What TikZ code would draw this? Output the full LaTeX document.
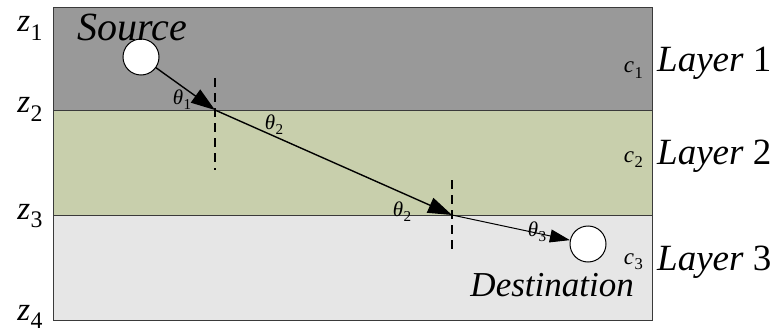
\documentclass[tikz,border=0pt]{standalone}
\usepackage{fontspec}
\setmainfont{Liberation Serif}
\usepackage{tikz}
\usetikzlibrary{arrows.meta,positioning}
\definecolor{geoTop}{HTML}{999999}
\definecolor{geoMid}{HTML}{C8CFAC}
\definecolor{geoLow}{HTML}{E6E6E6}
\definecolor{geoEdge}{HTML}{3A3A3A}
\newcommand{\sym}[2]{\textit{#1}\kern0.5pt\raisebox{-0.25em}{\scalebox{0.72}{#2}}}

\begin{document}
\begin{tikzpicture}[x=1pt,y=-1pt,
  layerbox/.style={draw=geoEdge,line width=1pt},
  ray/.style={line width=1.4pt,-{Triangle[length=24pt,width=16pt]}},
  normal/.style={line width=1.2pt,dash pattern=on 9pt off 6pt},
  ball/.style={circle,draw=black,fill=white,line width=1pt,minimum size=36pt,inner sep=0pt},
  zlab/.style={font=\fontsize{33}{34}\selectfont,anchor=base,inner sep=0pt},
  ang/.style={font=\fontsize{21}{22}\selectfont,inner sep=0pt},
  speed/.style={font=\fontsize{23}{24}\selectfont,anchor=base east,inner sep=0pt},
  layername/.style={font=\fontsize{37}{40}\selectfont,anchor=base west,inner sep=0pt}]
  \useasboundingbox (0,0) rectangle (775,334);
  % layers
  \fill[geoTop] (53,8) rectangle (652,110);
  \fill[geoMid] (53,110) rectangle (652,215);
  \fill[geoLow] (53,215) rectangle (652,320);
  \draw[layerbox] (53,8) rectangle (652,320);
  \draw[layerbox] (53,110) -- (652,110);
  \draw[layerbox] (53,215) -- (652,215);
  % depth labels
  \node[zlab] (z1) at (30,32) {\sym{z}{1}};
  \node[zlab] (z2) at (30,113) {\sym{z}{2}};
  \node[zlab] (z3) at (30,219) {\sym{z}{3}};
  \node[zlab] (z4) at (30,320) {\sym{z}{4}};
  % source and destination
  \node[ball] (src) at (141,57) {};
  \node[ball] (dst) at (588,244) {};
  \node[font=\fontsize{40}{42}\selectfont\itshape,anchor=base west,inner sep=0pt] (srcname) at (77,41) {Source};
  \node[font=\fontsize{35}{38}\selectfont\itshape,anchor=base east,inner sep=0pt] (dstname) at (634,296) {Destination};
  % refraction points and normals
  \coordinate (h1) at (215,110);
  \coordinate (h2) at (452,215);
  \draw[normal] (215,78) -- (215,170);
  \draw[normal] (452,180) -- (452,252);
  % ray
  \draw[ray] (src) -- (h1);
  \draw[ray] (h1) -- (h2);
  \draw[ray,line width=1pt,-{Triangle[length=20pt,width=13pt]}] (h2) -- (dst);
  \node[ang] (t1) at (182,100) {\sym{θ}{1}};
  \node[ang] (t2) at (274,125) {\sym{θ}{2}};
  \node[ang] (t2b) at (402,212) {\sym{θ}{2}};
  \node[ang] (t3) at (537,232) {\sym{θ}{3}};
  % layer names
  \node[speed] (c1) at (643,73) {\sym{c}{1}};
  \node[speed] (c2) at (643,162) {\sym{c}{2}};
  \node[speed] (c3) at (643,264) {\sym{c}{3}};
  \node[layername] (l1) at (657,72) {\textit{Layer} 1};
  \node[layername] (l2) at (657,164) {\textit{Layer} 2};
  \node[layername] (l3) at (657,270) {\textit{Layer} 3};
\end{tikzpicture}
\end{document}
